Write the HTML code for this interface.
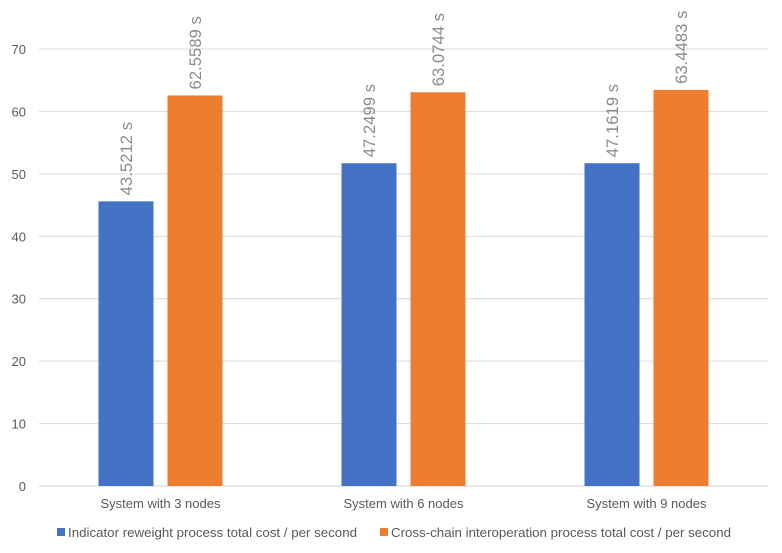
<!DOCTYPE html>
<html><head><meta charset="utf-8"><style>
body{margin:0;background:#fff;font-family:"Liberation Sans",sans-serif;}
</style></head><body>
<svg id="c" width="782" height="548" xmlns="http://www.w3.org/2000/svg"></svg>
<script>
const categories=["System with 3 nodes","System with 6 nodes","System with 9 nodes"];
const blueValues=[45.6,51.7,51.7];
const orangeValues=[62.5589,63.0744,63.4483];
const blueLabels=["43.5212 s","47.2499 s","47.1619 s"];
const orangeLabels=["62.5589 s","63.0744 s","63.4483 s"];
const ticks=[0,10,20,30,40,50,60,70];
const seriesNames=["Indicator reweight process total cost / per second","Cross-chain interoperation process total cost / per second"];
const svg=document.getElementById('c');const NS="http://www.w3.org/2000/svg";
const x0=39,x1=768,y0=486,y70=49;
const y=v=>y0-(v/70)*(y0-y70);
const bw=(x1-x0)/categories.length;
function mk(t,a,p){const e=document.createElementNS(NS,t);for(const k in a)e.setAttribute(k,a[k]);(p||svg).appendChild(e);return e;}
ticks.forEach(t=>{
 const l=mk('line',{x1:x0,x2:x1,y1:y(t),y2:y(t),stroke:t?'#d9d9d9':'#d0d0d0','stroke-width':1});
 
 
 const tx=mk('text',{x:26,y:y(t)+5,'text-anchor':'end','font-size':13,fill:'#595959'});tx.textContent=t;
 
 
});
categories.forEach((c,i)=>{
 const cx=x0+bw*(i+0.5);
 const b=mk('rect',{x:cx-62,y:y(blueValues[i]),width:55,height:y0-y(blueValues[i]),fill:'#4472c4'});
 
 
 const o=mk('rect',{x:cx+7,y:y(orangeValues[i]),width:55,height:y0-y(orangeValues[i]),fill:'#ed7d31'});
 
 
 [[cx-34.5,blueValues[i],blueLabels[i],'blue'],[cx+34.5,orangeValues[i],orangeLabels[i],'orange']].forEach(([lx,v,s,n])=>{
  const ty=y(v)-6;
  const t=mk('text',{x:lx+6,y:ty,transform:`rotate(-90 ${lx+6} ${ty})`,'font-size':16.5,'letter-spacing':0.1,fill:'#8a8a8a'});t.textContent=s;
  
  
 });
 const ct=mk('text',{x:cx,y:508,'text-anchor':'middle','font-size':13,fill:'#595959'});ct.textContent=c;
 
 
});
const lg=[[57,'#4472c4'],[380,'#ed7d31']];
lg.forEach(([lx,col],i)=>{
 const g=mk('g',{});
 
 
 mk('rect',{x:lx,y:528,width:8,height:8,fill:col},g);
 const t=mk('text',{x:lx+11,y:537,'font-size':13.3,fill:'#595959'},g);t.textContent=seriesNames[i];
});
</script>
</body></html>
